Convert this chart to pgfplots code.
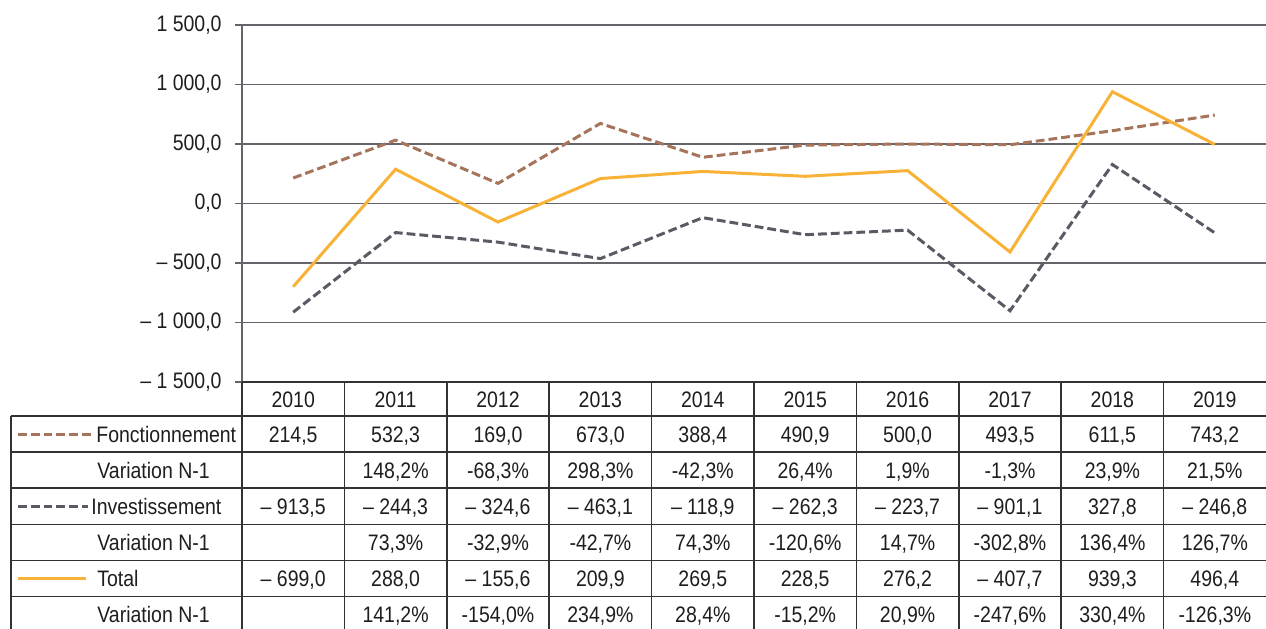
\documentclass[border=0pt]{standalone}
\usepackage{pgfplots}
\pgfplotsset{compat=1.18}
\usepackage{pgfplotstable}
\usepackage{fontspec}
\setmainfont{Liberation Sans}[FakeStretch=0.87]
\definecolor{cF}{RGB}{166,116,90}
\definecolor{cI}{RGB}{88,90,100}
\definecolor{cT}{RGB}{247,178,55}
\definecolor{cGrid}{RGB}{100,100,106}
\definecolor{cTab}{RGB}{50,50,50}
\definecolor{cTxt}{RGB}{30,30,30}

\pgfplotstableread{
x F I T
0.5 214.5 -913.5 -699.0
1.5 532.3 -244.3 288.0
2.5 169.0 -324.6 -155.6
3.5 673.0 -463.1 209.9
4.5 388.4 -118.9 269.5
5.5 490.9 -262.3 228.5
6.5 500.0 -223.7 276.2
7.5 493.5 -901.1 -407.7
8.5 611.5 327.8 939.3
9.5 743.2 -246.8 496.4
}\data

\newcommand{\tfont}{\fontsize{11.2}{13.4}\selectfont}

\begin{document}
\begin{tikzpicture}[font=\tfont]
\begin{axis}[
  at={(0,0)}, anchor=south west,
  scale only axis, width=512pt, height=178.5pt,
  xmin=0, xmax=10, ymin=-1500, ymax=1500,
  axis x line=none,
  axis y line=left,
  axis line style={-, draw=cGrid, line width=0.7pt},
  ytick={-1500,-1000,-500,0,500,1000,1500},
  yticklabels={{– 1 500,0},{– 1 000,0},{– 500,0},{0,0},{500,0},{1 000,0},{1 500,0}},
  ymajorgrids,
  grid style={draw=cGrid, line width=0.65pt},
  tick align=outside,
  major tick length=3.5pt,
  ytick style={draw=cGrid, line width=0.65pt},
  yticklabel style={font=\tfont, text=cTxt, anchor=east, inner sep=0pt, xshift=-6.5pt},
  clip=false,
]
\addplot[cF, line width=1.5pt, dash pattern=on 4.4pt off 2pt] table[x=x, y=F] {\data};
\addplot[cI, line width=1.5pt, dash pattern=on 4.4pt off 2pt] table[x=x, y=I] {\data};
\addplot[cT, line width=1.5pt] table[x=x, y=T] {\data};
\end{axis}

\begin{scope}[shift={(-121pt,191pt)}, x=0.5pt, y=-0.5pt,
  every node/.style={inner sep=0pt, text height=8pt, text depth=0pt, text=cTxt}]
  % table grid
  \draw[cTab, line width=0.75pt] (242,382) -- (1266,382);
  \foreach \yy in {416,452,488,524.5,560.5,596.5}
    \draw[cTab, line width=0.75pt] (11,\yy) -- (1266,\yy);
  \draw[cTab, line width=0.75pt] (11,416) -- (11,640);
  \draw[cTab, line width=0.75pt] (242,382) -- (242,640);
  \foreach \k in {1,...,9}
    \draw[cTab, line width=0.75pt] ({242+102.4*\k},382) -- ({242+102.4*\k},640);

  % header years
  \foreach \v [count=\k from 0] in {2010,2011,2012,2013,2014,2015,2016,2017,2018,2019}
    \node at ({293.2+102.4*\k},399) {\v};

  % row labels with legend samples
  \draw[cF, line width=1.5pt, dash pattern=on 4.4pt off 2pt] (18,434) -- (93,434);
  \node[anchor=west] at (96,434) {Fonctionnement};
  \node[anchor=west] at (97,470) {Variation N-1};
  \draw[cI, line width=1.5pt, dash pattern=on 4.4pt off 2pt] (18,506) -- (88,506);
  \node[anchor=west] at (91,506) {Investissement};
  \node[anchor=west] at (97,542) {Variation N-1};
  \draw[cT, line width=1.5pt] (18,578) -- (86,578);
  \node[anchor=west] at (97,578) {Total};
  \node[anchor=west] at (97,614) {Variation N-1};

  % values
  \foreach \v [count=\k from 0] in {{214,5},{532,3},{169,0},{673,0},{388,4},{490,9},{500,0},{493,5},{611,5},{743,2}}
    \node at ({293.2+102.4*\k},434) {\v};
  \foreach \v [count=\k from 1] in {{148,2\%},{-68,3\%},{298,3\%},{-42,3\%},{26,4\%},{1,9\%},{-1,3\%},{23,9\%},{21,5\%}}
    \node at ({293.2+102.4*\k},470) {\v};
  \foreach \v [count=\k from 0] in {{– 913,5},{– 244,3},{– 324,6},{– 463,1},{– 118,9},{– 262,3},{– 223,7},{– 901,1},{327,8},{– 246,8}}
    \node at ({293.2+102.4*\k},506) {\v};
  \foreach \v [count=\k from 1] in {{73,3\%},{-32,9\%},{-42,7\%},{74,3\%},{-120,6\%},{14,7\%},{-302,8\%},{136,4\%},{126,7\%}}
    \node at ({293.2+102.4*\k},542) {\v};
  \foreach \v [count=\k from 0] in {{– 699,0},{288,0},{– 155,6},{209,9},{269,5},{228,5},{276,2},{– 407,7},{939,3},{496,4}}
    \node at ({293.2+102.4*\k},578) {\v};
  \foreach \v [count=\k from 1] in {{141,2\%},{-154,0\%},{234,9\%},{28,4\%},{-15,2\%},{20,9\%},{-247,6\%},{330,4\%},{-126,3\%}}
    \node at ({293.2+102.4*\k},614) {\v};

  \pgfresetboundingbox
  \path[use as bounding box] (0,0) rectangle (1266,628);
\end{scope}
\end{tikzpicture}
\end{document}
